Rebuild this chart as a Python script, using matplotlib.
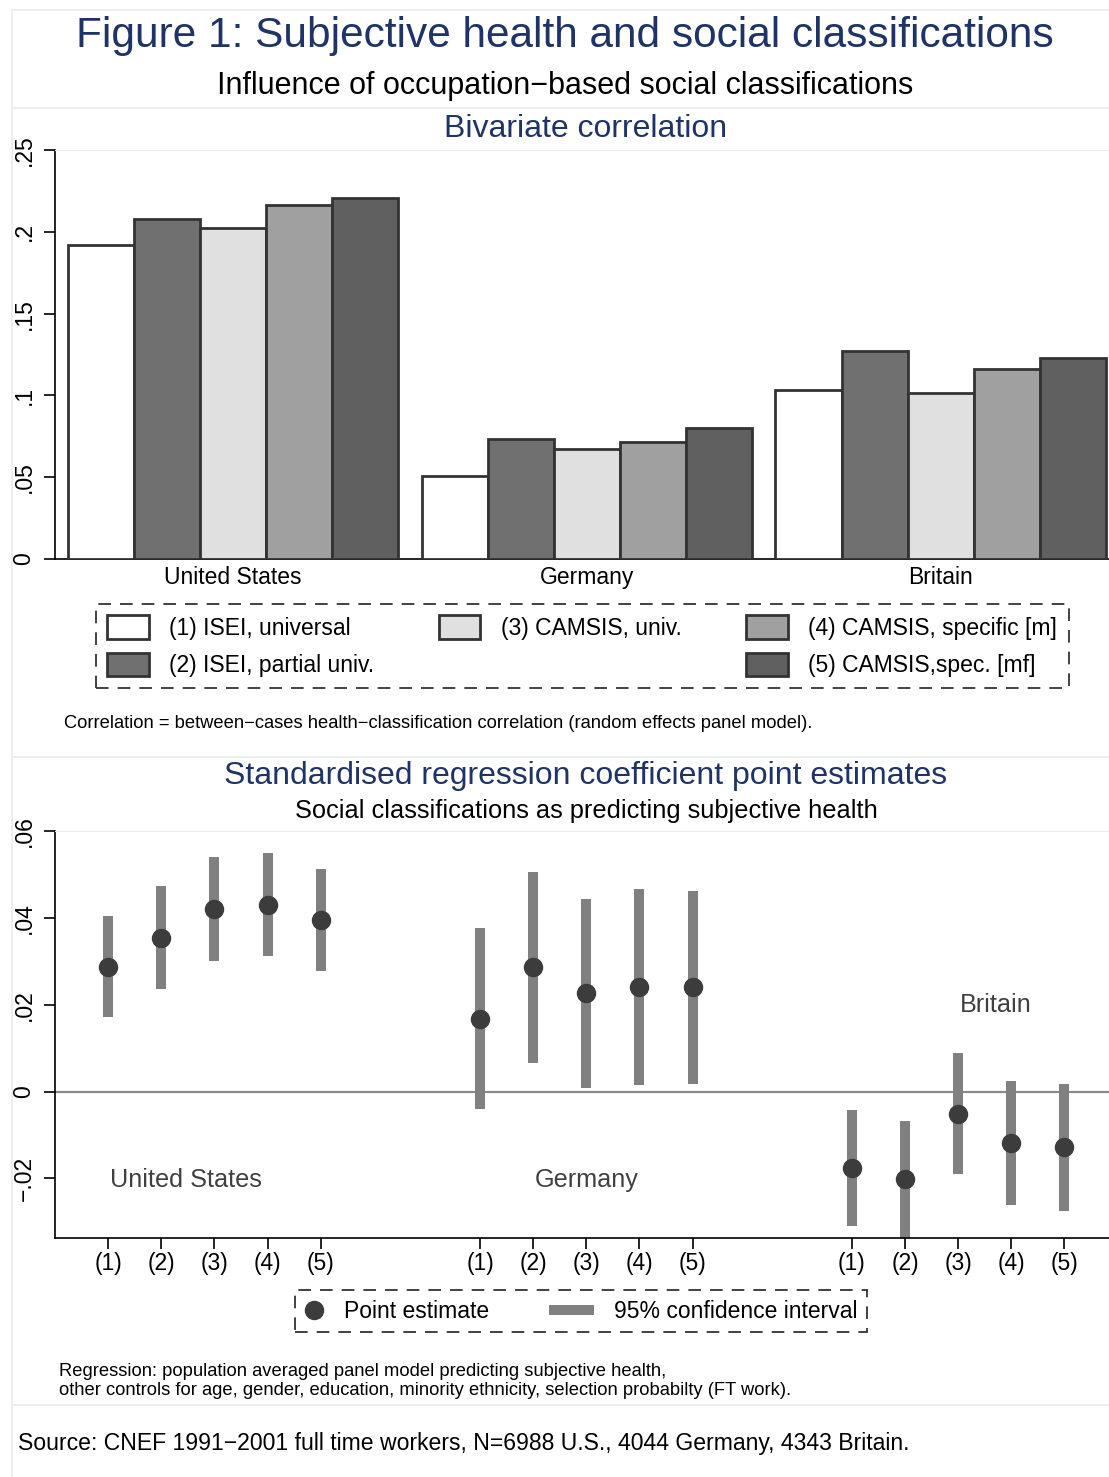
import numpy as np
import matplotlib
matplotlib.use('Agg')
import matplotlib.pyplot as plt
from matplotlib.lines import Line2D
from matplotlib.patches import Patch
from matplotlib.legend_handler import HandlerLine2D

plt.rcParams['font.family'] = ['Liberation Sans', 'DejaVu Sans']

# Data
countries = ['United States', 'Germany', 'Britain']
measures = ['(1) ISEI, universal', '(2) ISEI, partial univ.', '(3) CAMSIS, univ.',
            '(4) CAMSIS, specific [m]', '(5) CAMSIS,spec. [mf]']
bar_colors = ['#ffffff', '#707070', '#e0e0e0', '#a0a0a0', '#606060']

# bivariate correlation, measure (1)-(5) per country
corr_us = [0.192, 0.2076, 0.2025, 0.2164, 0.2207]
corr_de = [0.0508, 0.0734, 0.0673, 0.0716, 0.0800]
corr_gb = [0.1034, 0.1270, 0.1016, 0.1160, 0.1230]

# regression coefficients: point estimate, lower and upper 95% bounds
coef_us = [0.0288, 0.0354, 0.0421, 0.0430, 0.0396]
lo_us = [0.0172, 0.0236, 0.0301, 0.0313, 0.0278]
hi_us = [0.0404, 0.0473, 0.0541, 0.0549, 0.0513]
coef_de = [0.0167, 0.0286, 0.0226, 0.0241, 0.0240]
lo_de = [-0.0041, 0.0067, 0.0009, 0.0015, 0.0018]
hi_de = [0.0376, 0.0505, 0.0443, 0.0466, 0.0463]
coef_gb = [-0.0176, -0.0202, -0.0051, -0.0118, -0.0128]
lo_gb = [-0.0309, -0.0360, -0.0189, -0.0262, -0.0275]
hi_gb = [-0.0042, -0.0067, 0.0088, 0.0025, 0.0018]
tick_labels = ['(1)', '(2)', '(3)', '(4)', '(5)']

W, H = 1109, 1477
fig = plt.figure(figsize=(W / 100, H / 100), dpi=100)
fig.patch.set_facecolor('white')

navy = '#1f3366'
faint = '#e6eef0'


def fx(px):
    return px / W


def fy(py):
    return 1 - py / H


# faint region borders (Stata look)
for y0 in [10, 108, 757, 1405]:
    fig.add_artist(Line2D([fx(12), 1], [fy(y0), fy(y0)], color=faint, lw=1.2))
fig.add_artist(Line2D([fx(12), fx(12)], [fy(10), 0], color=faint, lw=1.2))

# titles
fig.text(fx(565), fy(47), 'Figure 1: Subjective health and social classifications',
         ha='center', va='baseline', fontsize=30.5, color=navy)
fig.text(fx(565), fy(94), 'Influence of occupation\u2212based social classifications',
         ha='center', va='baseline', fontsize=22, color='black')
fig.text(fx(586), fy(137), 'Bivariate correlation',
         ha='center', va='baseline', fontsize=23, color=navy)

# ---------------- top panel: bars ----------------
ax1 = fig.add_axes([fx(55), fy(559), fx(1109 - 55), (559 - 150) / H])
gap = 0.356
all_corr = [corr_us, corr_de, corr_gb]
for g, vals in enumerate(all_corr):
    for i, v in enumerate(vals):
        ax1.bar(g * (5 + gap) + i + 0.5, v, width=1.0, color=bar_colors[i],
                edgecolor='#333333', linewidth=2.0, zorder=3)
ax1.set_xlim(-0.197, 3 * 5 + 2 * gap + 0.05)
ax1.set_ylim(0, 0.25)
ax1.set_yticks([0, 0.05, 0.1, 0.15, 0.2, 0.25])
ax1.set_yticklabels(['0', '.05', '.1', '.15', '.2', '.25'], rotation=90, va='center')
ax1.set_xticks([g * (5 + gap) + 2.5 for g in range(3)])
ax1.set_xticklabels(countries)
ax1.tick_params(axis='x', length=0, pad=5, labelsize=16.5)
ax1.tick_params(axis='y', length=8, width=1.2, pad=6, labelsize=16.5)
ax1.spines['right'].set_visible(False)
ax1.spines['top'].set_color(faint)
ax1.spines['left'].set_linewidth(1.2)
ax1.spines['bottom'].set_linewidth(1.2)

handles = [Patch(facecolor=bar_colors[i], edgecolor='#333333', linewidth=2.0) for i in range(5)]
blank = Patch(facecolor='none', edgecolor='none')
leg1 = fig.legend([handles[0], handles[1], handles[2], blank, handles[3], handles[4]],
                  [measures[0], measures[1], measures[2], '', measures[3], measures[4]],
                  ncol=3, loc='upper left', bbox_to_anchor=(fx(96), fy(604)),
                  fontsize=16.5, handlelength=1.8, handleheight=1.2, handletextpad=0.9,
                  columnspacing=2.82, borderpad=0.5, labelspacing=0.55,
                  frameon=True, fancybox=False, borderaxespad=0)
fr = leg1.get_frame()
fr.set_edgecolor('black')
fr.set_linewidth(1.3)
fr.set_linestyle((0, (7, 5)))

fig.text(fx(64), fy(728), 'Correlation = between\u2212cases health\u2212classification correlation '
         '(random effects panel model).', ha='left', va='baseline', fontsize=13.2)

# ---------------- bottom panel: coefficients ----------------
fig.text(fx(586), fy(784), 'Standardised regression coefficient point estimates',
         ha='center', va='baseline', fontsize=23, color=navy)
fig.text(fx(586), fy(818), 'Social classifications as predicting subjective health',
         ha='center', va='baseline', fontsize=18.3, color='black')

ax2 = fig.add_axes([fx(55), fy(1238), fx(1109 - 55), (1238 - 831) / H])
ax2.axhline(0, color='#8a8a8a', lw=1.6, zorder=1)
groups = [(coef_us, lo_us, hi_us), (coef_de, lo_de, hi_de), (coef_gb, lo_gb, hi_gb)]
xpos_all = []
for g, (c, lo, hi) in enumerate(groups):
    xs = np.arange(5) + 1 + 7 * g
    xpos_all.extend(xs)
    ax2.vlines(xs, lo, hi, color='#808080', lw=7.2, zorder=2, capstyle='butt')
    ax2.plot(xs, c, 'o', color='#3c3c3c', markersize=13, zorder=3)
ax2.set_xlim(0, 19.84)
ax2.set_ylim(-0.0337, 0.06)
ax2.set_xticks(xpos_all)
ax2.set_xticklabels(tick_labels * 3)
ax2.set_yticks([-0.02, 0, 0.02, 0.04, 0.06])
ax2.set_yticklabels(['\u2212.02', '0', '.02', '.04', '.06'], rotation=90, va='center')
ax2.tick_params(axis='x', length=8, width=1.2, pad=2, labelsize=16.5)
ax2.tick_params(axis='y', length=8, width=1.2, pad=6, labelsize=16.5)
ax2.spines['right'].set_visible(False)
ax2.spines['top'].set_color(faint)
ax2.spines['left'].set_linewidth(1.2)
ax2.spines['bottom'].set_linewidth(1.2)

ax2.text(2.47, -0.0203, 'United States', ha='center', va='center', fontsize=18.2, color='#404040')
ax2.text(10.0, -0.0203, 'Germany', ha='center', va='center', fontsize=18.2, color='#404040')
ax2.text(17.7, 0.0199, 'Britain', ha='center', va='center', fontsize=18.2, color='#404040')

pt_handle = Line2D([], [], marker='o', ls='none', color='#3c3c3c', markersize=13)
ci_handle = Line2D([], [], color='#808080', lw=7.2, solid_capstyle='butt')
leg2 = fig.legend([pt_handle, ci_handle], ['Point estimate', '95% confidence interval'],
                  ncol=2, loc='upper left', bbox_to_anchor=(fx(295), fy(1290)),
                  fontsize=16.5, handlelength=0.8, handletextpad=0.9, columnspacing=3.78,
                  borderpad=0.42, frameon=True, fancybox=False, borderaxespad=0,
                  handler_map={pt_handle: HandlerLine2D(numpoints=1),
                               ci_handle: HandlerLine2D(xpad=-1.13)})
fr2 = leg2.get_frame()
fr2.set_edgecolor('black')
fr2.set_linewidth(1.3)
fr2.set_linestyle((0, (7, 5)))

fig.text(fx(59), fy(1376), 'Regression: population averaged panel model predicting subjective health,',
         ha='left', va='baseline', fontsize=13.2)
fig.text(fx(59), fy(1395), 'other controls for age, gender, education, minority ethnicity, '
         'selection probabilty (FT work).', ha='left', va='baseline', fontsize=13.2)

fig.text(fx(18), fy(1450), 'Source: CNEF 1991\u22122001 full time workers, N=6988 U.S., 4044 Germany, 4343 Britain.',
         ha='left', va='baseline', fontsize=16.6)

fig.savefig('out.png', dpi=100)
